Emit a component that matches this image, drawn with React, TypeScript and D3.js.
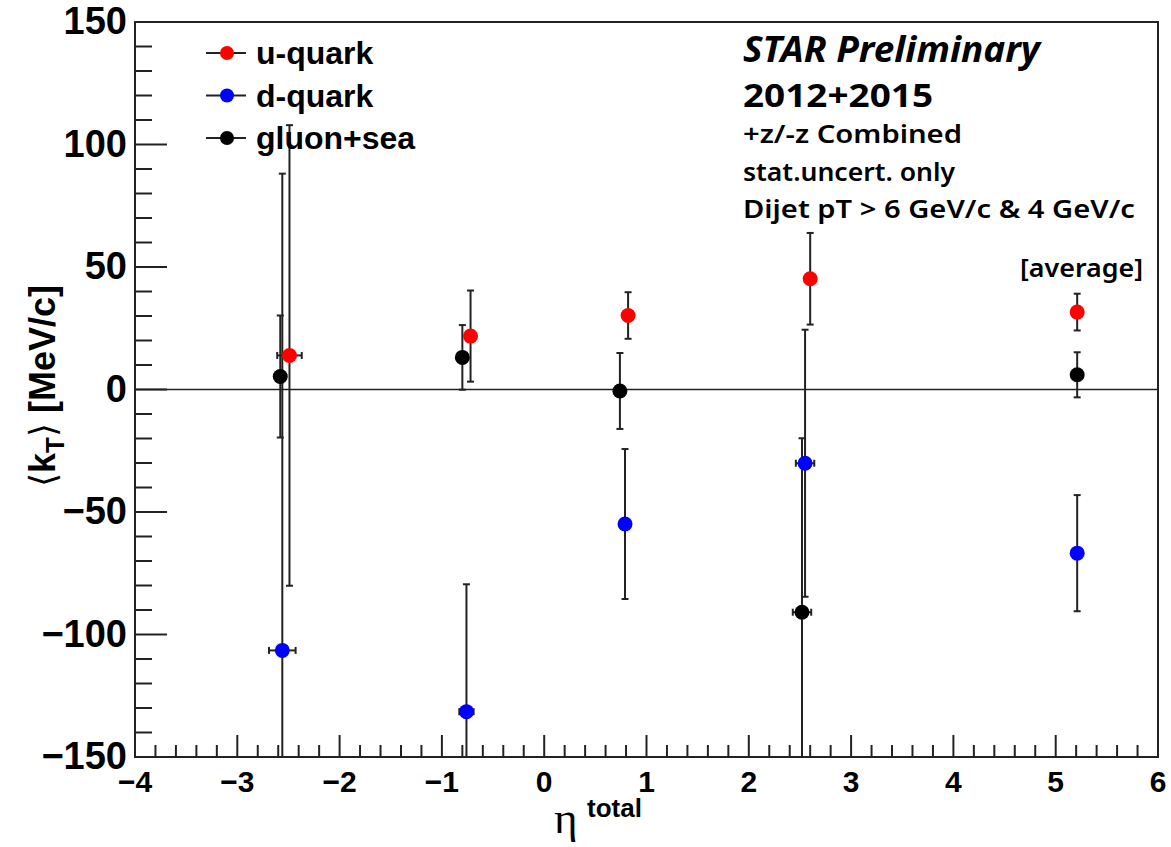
import React from "react";
import * as d3 from "d3";

// ---- data ----
const uEta = [-2.49, -0.72, 0.82, 2.6, 5.21];
const uVal = [13.9, 21.8, 30.2, 45.2, 31.6];
const uErr = [94, 18.6, 9.5, 18.7, 7.5];
const uXErr = [0.12, 0, 0, 0, 0];

const dEta = [-2.56, -0.76, 0.79, 2.55, 5.21];
const dVal = [-106.5, -131.5, -54.9, -30.1, -66.8];
const dErr = [194.6, 52, 30.6, 54.5, 23.7];
const dXErr = [0.13, 0.07, 0, 0.09, 0];

const gEta = [-2.58, -0.8, 0.74, 2.52, 5.21];
const gVal = [5.3, 13.1, -0.6, -90.9, 6];
const gErr = [24.9, 13.2, 15.5, 71, 9.2];
const gXErr = [0, 0, 0, 0.09, 0];

const seriesNames = ["u-quark", "d-quark", "gluon+sea"];
const seriesColors = ["#ff0000", "#0000ff", "#000000"];

const xTicks = [-4, -3, -2, -1, 0, 1, 2, 3, 4, 5, 6];
const yTicks = [-150, -100, -50, 0, 50, 100, 150];

const infoLines = [
  { text: "+z/-z Combined", len: 219 },
  { text: "stat.uncert. only", len: 212 },
  { text: "Dijet pT > 6 GeV/c & 4 GeV/c", len: 392 },
];

const W = 1171;
const H = 847;
const L = 135, R = 1158, T = 22, B = 757;

export default function App() {
  const x = d3.scaleLinear().domain([-4, 6]).range([L, R]);
  const y = d3.scaleLinear().domain([-150, 150]).range([B, T]);

  const series = [
    { eta: uEta, val: uVal, err: uErr, xerr: uXErr, color: seriesColors[0] },
    { eta: dEta, val: dVal, err: dErr, xerr: dXErr, color: seriesColors[1] },
    { eta: gEta, val: gVal, err: gErr, xerr: gXErr, color: seriesColors[2] },
  ];

  const xMinor = d3.range(-4, 6.0001, 0.2).filter((v) => Math.abs(v - Math.round(v)) > 1e-6);
  const yMinor = d3.range(-150, 150.0001, 10).filter((v) => Math.abs(v % 50) > 1e-6);

  const clampY = (v: number) => Math.max(-150, Math.min(150, v));
  const errColor = "#222";
  const capW = 3.5;
  const r = 7.5;
  const fmt = (v: number) => (v < 0 ? "\u2212" + Math.abs(v) : String(v));

  return (
    <div style={{ position: "absolute", left: 0, top: 0 }}>
      <svg width={W} height={H} style={{ display: "block", background: "#fff" }}>
        <rect x={0} y={0} width={W} height={H} fill="#fff" />
        {/* zero line */}
        <line x1={L} x2={R} y1={y(0)} y2={y(0)} stroke="#222" strokeWidth={1.6} />

        {/* error bars */}
        {series.map((s, si) =>
          s.eta.map((e, i) => {
            const cx = x(e);
            const cy = y(s.val[i]);
            const hi = s.val[i] + s.err[i];
            const lo = s.val[i] - s.err[i];
            const yHi = y(clampY(hi));
            const yLo = y(clampY(lo));
            const xe = s.xerr[i];
            return (
              <g key={`e${si}-${i}`} stroke={errColor} strokeWidth={2}>
                <line x1={cx} x2={cx} y1={yHi} y2={yLo} />
                {hi <= 150 && <line x1={cx - capW} x2={cx + capW} y1={yHi} y2={yHi} />}
                {lo >= -150 && <line x1={cx - capW} x2={cx + capW} y1={yLo} y2={yLo} />}
                {xe > 0 && (
                  <>
                    <line x1={x(e - xe)} x2={x(e + xe)} y1={cy} y2={cy} />
                    <line x1={x(e - xe)} x2={x(e - xe)} y1={cy - capW} y2={cy + capW} />
                    <line x1={x(e + xe)} x2={x(e + xe)} y1={cy - capW} y2={cy + capW} />
                  </>
                )}
              </g>
            );
          })
        )}
        {/* markers */}
        {series.map((s, si) =>
          s.eta.map((e, i) => (
            <circle key={`m${si}-${i}`} cx={x(e)} cy={y(s.val[i])} r={r} fill={s.color} />
          ))
        )}

        {/* frame */}
        <rect x={L} y={T} width={R - L} height={B - T} fill="none" stroke="#222" strokeWidth={2} />

        {/* x ticks */}
        {xTicks.map((t) => (
          <line key={`xt${t}`} x1={x(t)} x2={x(t)} y1={B} y2={B - 22} stroke="#222" strokeWidth={2} />
        ))}
        {xMinor.map((t, i) => (
          <line key={`xm${i}`} x1={x(t)} x2={x(t)} y1={B} y2={B - 12} stroke="#222" strokeWidth={2} />
        ))}
        {/* y ticks */}
        {yTicks.map((t) => (
          <line key={`yt${t}`} x1={L} x2={L + 32} y1={y(t)} y2={y(t)} stroke="#222" strokeWidth={2} />
        ))}
        {yMinor.map((t, i) => (
          <line key={`ym${i}`} x1={L} x2={L + 17} y1={y(t)} y2={y(t)} stroke="#222" strokeWidth={2} />
        ))}

        {/* tick labels */}
        <g fontFamily="Liberation Sans, Arial, sans-serif" fontWeight="bold" fill="#000">
          {xTicks.map((t) => (
            <text key={`xl${t}`} x={x(t)} y={792} fontSize={30} textAnchor="middle">
              {fmt(t)}
            </text>
          ))}
          {yTicks.map((t) => (
            <text key={`yl${t}`} x={127} y={y(t) + 12} fontSize={38} textAnchor="end">
              {fmt(t)}
            </text>
          ))}
        </g>

        {/* axis titles */}
        <text
          transform={`translate(55, 386) rotate(-90)`}
          textAnchor="middle"
          fontFamily="Liberation Sans, Arial, sans-serif"
          fontWeight="bold"
          fontSize={36}
          fill="#000"
        >
          <tspan fontFamily="DejaVu Sans" fontWeight="normal">{"\u27E8"}</tspan>
          <tspan>k</tspan>
          <tspan fontSize={26} dy={9}>T</tspan>
          <tspan fontFamily="DejaVu Sans" fontWeight="normal" dy={-9}>{"\u27E9"}</tspan>
          <tspan>{" [MeV/c]"}</tspan>
        </text>
        <text x={554} y={833} fontFamily="Liberation Serif, serif" fontSize={45} fill="#000">
          η
        </text>
        <text
          x={587}
          y={817}
          fontFamily="Liberation Sans, Arial, sans-serif"
          fontWeight="bold"
          fontSize={26}
          fill="#000"
        >
          total
        </text>

        {/* legend */}
        {seriesNames.map((n, i) => {
          const ly = 53 + i * 42.5;
          return (
            <g key={`lg${i}`}>
              <line x1={206} x2={246} y1={ly} y2={ly} stroke="#222" strokeWidth={2} />
              <circle cx={227} cy={ly} r={7} fill={seriesColors[i]} />
              <text
                x={256}
                y={ly + 11}
                fontFamily="Liberation Sans, Arial, sans-serif"
                fontWeight="bold"
                fontSize={32}
                fill="#000"
              >
                {n}
              </text>
            </g>
          );
        })}

        {/* info text */}
        <g fontFamily="Noto Sans, Open Sans, sans-serif" fill="#000">
          <text
            x={743}
            y={62}
            fontSize={35}
            fontStyle="italic"
            fontWeight="bold"
            textLength={297}
            lengthAdjust="spacingAndGlyphs"
          >
            STAR Preliminary
          </text>
          <text x={743} y={107} fontSize={33} fontWeight="bold" textLength={190} lengthAdjust="spacingAndGlyphs">
            2012+2015
          </text>
          {infoLines.map((t, i) => (
            <text
              key={`in${i}`}
              x={743}
              y={143 + i * 37.5}
              fontSize={26}
              fontWeight="600"
              textLength={t.len}
              lengthAdjust="spacingAndGlyphs"
            >
              {t.text}
            </text>
          ))}
          <text
            x={1020}
            y={277}
            fontSize={26}
            fontWeight="600"
            textLength={123}
            lengthAdjust="spacingAndGlyphs"
          >
            [average]
          </text>
        </g>
      </svg>
    </div>
  );
}
